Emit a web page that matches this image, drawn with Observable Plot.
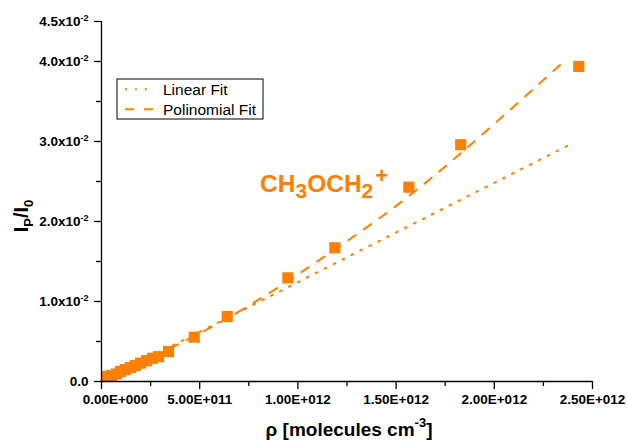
<!DOCTYPE html>
<html>
<head>
<meta charset="utf-8">
<script src="https://cdn.jsdelivr.net/npm/d3@7"></script>
<script src="https://cdn.jsdelivr.net/npm/@observablehq/plot@0.6"></script>
<style>
  body { margin: 0; background: #fff; }
  #chart svg { display: block; }
</style>
</head>
<body>
<div id="chart"></div>
<script>
// ---- data (x in units of 1e12 molecules cm^-3) ----
const density = [0.0255, 0.0509, 0.0764, 0.0967, 0.122, 0.148, 0.173, 0.199, 0.229, 0.260, 0.290, 0.341, 0.472, 0.640, 0.949, 1.188, 1.565, 1.829, 2.430];
const ratio   = [0.000625, 0.00075, 0.00094, 0.00125, 0.0015, 0.00175, 0.0020, 0.0023, 0.0026, 0.0029, 0.0031, 0.00375, 0.00554, 0.00812, 0.01296, 0.01671, 0.02429, 0.0296, 0.03938];

const linearFitX = [0, 2.384];
const linearFitY = [0, 0.0296];

const polyFitX = [0, 0.64, 1.188, 1.683, 2.359];
const polyFitY = [0, 0.0079, 0.0165, 0.0255, 0.0401];

const xMajorTicks = [0, 0.5, 1.0, 1.5, 2.0, 2.5];
const xTickLabels = ["0.00E+000", "5.00E+011", "1.00E+012", "1.50E+012", "2.00E+012", "2.50E+012"];
const xMinorTicks = [0.25, 0.75, 1.25, 1.75, 2.25];

const yMajorTicks = [0, 0.01, 0.02, 0.03, 0.04, 0.045];
const yTickMantissa = ["0.0", "1.0", "2.0", "3.0", "4.0", "4.5"];
const yTickExponent = ["", "-2", "-2", "-2", "-2", "-2"];
const yMinorTicks = [0.005, 0.015, 0.025, 0.035];

const legendLabels = ["Linear Fit", "Polinomial Fit"];
const annotation = {x: 0.81, y: 0.02366};

const ORANGE = "#ff8000";
const FONT = "'Liberation Sans', Arial, sans-serif";

const points = density.map((x, i) => ({x, y: ratio[i]}));
const linPts = linearFitX.map((x, i) => ({x, y: linearFitY[i]}));
const polyPts = polyFitX.map((x, i) => ({x, y: polyFitY[i]}));

const xFmt = new Map(xMajorTicks.map((t, i) => [t, xTickLabels[i]]));
const yFmt = new Map(yMajorTicks.map((t, i) => [t, yTickMantissa[i] + (yTickExponent[i] ? "x10^" + yTickExponent[i] : "")]));

const plot = Plot.plot({
  width: 627,
  height: 442,
  marginLeft: 101,
  marginRight: 35,
  marginTop: 21,
  marginBottom: 61,
  style: {fontFamily: FONT, fontSize: "13.5px", background: "white", color: "black"},
  x: {domain: [0, 2.5], axis: null},
  y: {domain: [0, 0.045], axis: null},
  marks: [
    Plot.line(linPts, {x: "x", y: "y", stroke: ORANGE, strokeWidth: 2, strokeDasharray: "2,8"}),
    Plot.line(polyPts, {x: "x", y: "y", stroke: ORANGE, strokeWidth: 2, strokeDasharray: "9,10", curve: "natural"}),
    Plot.dot(points, {x: "x", y: "y", symbol: "square", r: 6.3, fill: ORANGE, stroke: "none"}),
    Plot.ruleX([0], {stroke: "black", strokeWidth: 1.3}),
    Plot.ruleY([0], {stroke: "black", strokeWidth: 1.3}),
    Plot.axisX({ticks: xMajorTicks, tickSize: 8, tickPadding: 5, tickFormat: d => xFmt.get(d), fontSize: 13.5, fontWeight: "bold", strokeWidth: 1.3, label: null}),
    Plot.axisX({ticks: xMinorTicks, tickSize: 5, tickFormat: () => "", strokeWidth: 1.3, label: null}),
    Plot.axisY({ticks: yMajorTicks, tickSize: 7, tickPadding: 6, tickFormat: d => yFmt.get(d), fontSize: 13.5, fontWeight: "bold", strokeWidth: 1.3, label: null}),
    Plot.axisY({ticks: yMinorTicks, tickSize: 5, tickFormat: () => "", strokeWidth: 1.3, label: null})
  ]
});

document.getElementById("chart").appendChild(plot);
const svg = d3.select(plot);

// superscript exponents on y tick labels; nudge first x label like the original
svg.selectAll("text").each(function() {
  const t = this.textContent;
  const el = d3.select(this);
  if (t.includes("x10^")) {
    const [base, exp] = t.split("^");
    el.text(base);
    el.append("tspan").attr("dy", "-5").style("font-size", "9px").text(exp);
  } else if (t === xTickLabels[0]) {
    el.attr("dx", 14);
  }
});

const sx = plot.scale("x"), sy = plot.scale("y");

function txt(parent, size, weight, anchor) {
  return parent.append("text")
    .attr("text-anchor", anchor)
    .style("font-family", FONT).style("font-size", size + "px").style("font-weight", weight);
}

// annotation
const ann = txt(svg, 24.5, "bold", "start")
  .attr("x", sx.apply(annotation.x)).attr("y", sy.apply(annotation.y))
  .attr("fill", ORANGE);
ann.append("tspan").text("CH");
ann.append("tspan").attr("dy", 6).style("font-size", "21px").text("3");
ann.append("tspan").attr("dy", -6).text("OCH");
ann.append("tspan").attr("dy", 6).style("font-size", "21px").text("2");
ann.append("tspan").attr("dx", 2).attr("dy", -15).style("font-size", "22px").text("+");

// x axis title
const xt = txt(svg, 19, "bold", "middle").attr("x", 349).attr("y", 436).attr("fill", "black");
xt.append("tspan").text("ρ [molecules cm");
xt.append("tspan").attr("dy", -9).style("font-size", "13px").text("-3");
xt.append("tspan").attr("dy", 9).text("]");

// y axis title
const yt = txt(svg, 20, "bold", "middle").attr("transform", "translate(28,216) rotate(-90)").attr("fill", "black");
yt.append("tspan").text("I");
yt.append("tspan").attr("dy", 5).style("font-size", "13px").text("P");
yt.append("tspan").attr("dy", -5).text("/I");
yt.append("tspan").attr("dy", 5).style("font-size", "13px").text("0");

// legend
const lg = svg.append("g");
lg.append("rect").attr("x", 117).attr("y", 79).attr("width", 146).attr("height", 40)
  .attr("fill", "white").attr("stroke", "black").attr("stroke-width", 1);
const dashes = ["2,8", "9,10"];
legendLabels.forEach((lab, i) => {
  const y = 89.3 + i * 20;
  lg.append("line").attr("x1", 125).attr("x2", 155).attr("y1", y).attr("y2", y)
    .attr("stroke", ORANGE).attr("stroke-width", 2).attr("stroke-dasharray", dashes[i]);
  txt(lg, 15.5, "normal", "start").attr("x", 163).attr("y", y + 6).attr("fill", "black").text(lab);
});
</script>
</body>
</html>
